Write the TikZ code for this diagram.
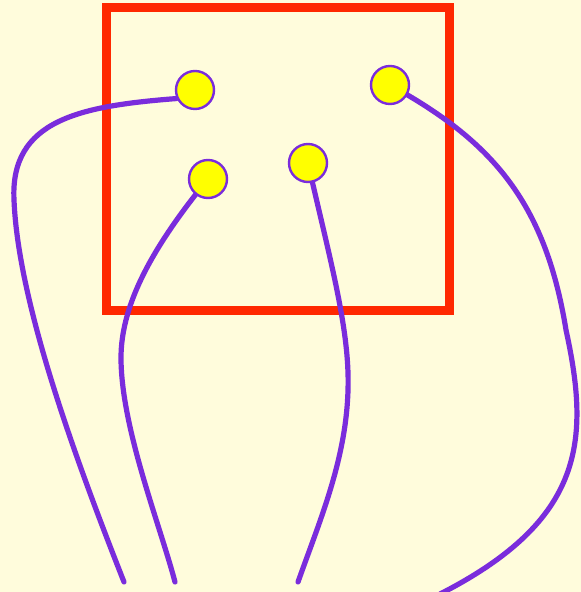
\documentclass[tikz,border=0pt]{standalone}
\usetikzlibrary{backgrounds}
\definecolor{PaperYellow}{RGB}{255,252,220}
\definecolor{FrameRed}{RGB}{255,40,0}
\definecolor{WirePurple}{RGB}{122,44,220}
\definecolor{KnobYellow}{RGB}{255,255,0}
\tikzset{
  terminal/.style={circle,draw=WirePurple,fill=KnobYellow,line width=1.2pt,minimum size=19pt,inner sep=0pt},
  wire/.style={draw=WirePurple,line width=2.6pt,line cap=round},
  frame/.style={draw=FrameRed,line width=4.5pt}
}

\begin{document}
\begin{tikzpicture}[x=0.5pt,y=-0.5pt]
\useasboundingbox (0,0) rectangle (581,592);

\node[terminal] (t1) at (195,90) {};
\node[terminal] (t2) at (208,179) {};
\node[terminal] (t3) at (308,163) {};
\node[terminal] (t4) at (390,85) {};

\coordinate (e1) at (124,582);
\coordinate (e2) at (175,582);
\coordinate (e3) at (298,582);
\coordinate (e4) at (440,594);

\begin{scope}[on background layer]
\fill[PaperYellow] (0,0) rectangle (581,592);
\draw[frame] (106.5,7.5) rectangle (449,310);
% wires run under the terminals
\draw[wire] (t1.205) .. controls (80,106) and (10,120) .. (14,200)
  .. controls (18,300) and (72,450) .. (e1);
\draw[wire] (t2.center) .. controls (160,238) and (120,300) .. (121,360)
  .. controls (122,430) and (160,525) .. (e2);
\draw[wire] (t3.center) .. controls (330,260) and (350,330) .. (348,390)
  .. controls (346,460) and (320,520) .. (e3);
\draw[wire] (t4.center) .. controls (490,140) and (545,200) .. (566,330)
  .. controls (590,440) and (585,520) .. (e4);
\end{scope}
\end{tikzpicture}
\end{document}
